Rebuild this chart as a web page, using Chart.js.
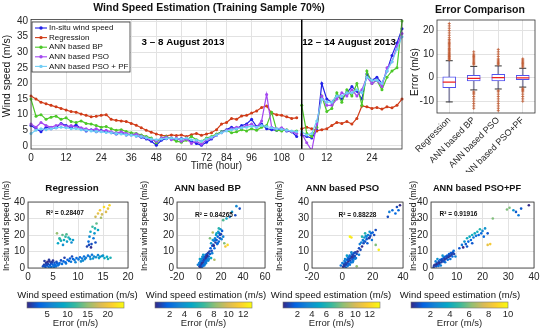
<!DOCTYPE html>
<html><head><meta charset="utf-8">
<script src="https://cdn.jsdelivr.net/npm/chart.js@4.4.1/dist/chart.umd.min.js"></script>
<style>
html,body{margin:0;padding:0;background:#fff;}
body{width:550px;height:332px;position:relative;overflow:hidden;}
canvas{position:absolute;}
</style></head><body>
<canvas id="cMain" width="420" height="172" style="left:0px;top:0px"></canvas>
<canvas id="cBox" width="145" height="172" style="left:405px;top:0px"></canvas>
<canvas id="cS1" width="140" height="121" style="left:0px;top:180px"></canvas>
<canvas id="cS2" width="140" height="121" style="left:138px;top:180px"></canvas>
<canvas id="cS3" width="145" height="121" style="left:268px;top:180px"></canvas>
<canvas id="cS4" width="152" height="121" style="left:398px;top:180px"></canvas>
<canvas id="cB1" width="121" height="34" style="left:15px;top:298px"></canvas>
<canvas id="cB2" width="121" height="34" style="left:143px;top:298px"></canvas>
<canvas id="cB3" width="121" height="34" style="left:271px;top:298px"></canvas>
<canvas id="cB4" width="121" height="34" style="left:399px;top:298px"></canvas>
<script>
// ---------------- DATA ----------------
// time axis (hours) : 3-8 August 2013, then 12-14 August 2013
const hours = [0,2,3,5,7,9,10, 12,14,15,17,19,21,22, 24,26,28,30,32,34, 36,38,41,43,46, 48,50,53,55,58,
  60,62,65,67,70, 72,75,78,81, 84,86,89,91,94, 96,98,100,102,104,106, 108,110,113,115,
  0,2,5,7,10, 12,13,15,16,18,19,20,21,23, 24,26,28,29,31,33,34];
const segStart = 54; // first sample of 12-14 August
const insitu = [6.5,5.5,4.5,6,5.5,5.8,7.2,6.5,5.8,6.8, 5.5,4.8,5.2,4.5,5,4.5,4.2,3.8,4.2,3.5,
  3.8,3.2,2.8,2.2,1.5,0.2,1.8,2.3,2.5,2, 2.4,2.2,1.5,0.8,0.2,1.2,2.2,3.5,4.5,5.2,
  6,5.5,6.5,7,8.5,6.2,7,5.5,5.2,5, 5.5,4.8,4.5,3,
  3.5,3,2.5,5,20,15,14,16,15,17, 19,17.5,15,23,21,22,20,24,29,33, 37.5];
const regression = [16,15,14,13.5,13,12.5,12,11.5,11,10.8, 10.2,9.8,9.3,9.5,9.8,10,8.5,8.2,8,7.8,
  7.2,6.6,5.8,5,4.4,3.8,3.4,3.2,3.5,3.3, 3.5,3,3.6,4,3.4,3.8,4.2,5.2,7,7.5,
  8.8,8.5,9.6,9.8,10.5,11.2,12.3,12.8,10.5,10, 9.8,9.3,8.8,9,
  5.5,6,5.5,4.8,5.2,5.5,6.5,7.5,7.2,7.8, 7,8.8,12.8,12.5,12,12.3,11.8,12.5,12.2,13, 15];
const annBP = [15,9.5,10,8.5,9.2,9.5,8.5,9,7.8,7.5, 8,7.2,7,6.5,6,6.2,5.5,5,5.2,4.6,
  4.2,4,3.5,3,2.5,1,2.5,3,2.2,1.5, 1.2,1.8,3,2,1.5,2.5,3,3.8,4.5,5,
  4.2,4.5,5.2,4.8,5.5,5,6,6.5,10.8,5, 4.8,5.2,4.5,4.8,
  13,4,3,6,16,11,12,17,14,18, 16,20,13,24,20,21,18,22,24,25, 40];
const annPSO = [7,6,7.5,6.5,6,6.5,7,6.2,6.5,6, 5.8,5.5,5,5.5,4.8,5,4.5,4.2,4.5,4,
  3.5,3.8,3.2,2.5,2,1.5,2.5,2.8,2,2.5, 1.5,2.2,0.8,1.5,0.5,2,2.5,3.5,4.2,5,
  5.5,6,5.8,6.5,7,6,8,16.5,6,5.5, 5.8,5,4.5,4,
  4,1,-1.5,7,16,13,13,15,17,16, 18,16,18,22,20,21,19,25,27,32, 36];
const annPF = [4,5,5.5,5.2,5.5,5.8,6,5.8,5.5,5.6, 5.2,5,4.8,4.6,4.5,4.3,4.2,4,3.8,3.6,
  3.4,3.2,3,2.6,2.2,2,2.2,2.4,2.5,2.3, 2.2,2.5,2,1.8,1.5,2.2,2.8,3.5,4.2,4.8,
  5.2,5.5,5.8,6,6.3,6,6.5,6.2,5.8,5.5, 5.3,5,4.8,4.5,
  4.5,3.5,4,8,15,14,14,16,16,17, 17,18,17,22,21,21,20,24,27,31, 35];

// error box plot
const boxCats = ['Regression','ANN based BP','ANN based PSO','ANN based PSO+PF'];
const boxQ1 = [-4.2,-1.4,-1.4,-0.8];
const boxQ3 = [0.4,1.0,1.4,1.0];
const boxMed = [-1.9,-0.3,0.0,-0.1];
const whiskLo = [-10.3,-5.2,-4.8,-4.0];
const whiskHi = [7.2,4.8,5.0,4.0];
const outReg = [7.6,8,8.3,8.7,9,9.4,9.8,10.2,10.6,11,11.5,12,12.4,13,13.5,14,14.5,15,15.6,16.2,17,18,19,20,21,22,23];
const outBP = [5.5,6,6.5,7,7.5,8,8.5,9,9.5,10,11,-6,-6.5,-7,-8,-9,-10,-11,-12,-13];
const outPSO = [5.5,6,6.5,7,7.5,8,9,10,11,12,-5.5,-6,-7,-8,-9,-10,-11,-12,-13,-14];
const outPF = [4.5,5,5.5,6,6.5,7,7.5,8,-4.5,-5,-5.5,-6,-7,-8,-9,-10];

// scatter: [estimation, in-situ]
const regPts = [[3,1],[3.2,2],[3.5,0.5],[3.6,3],[3.8,1.5],[4,2.5],[4.1,0.8],[4.3,4],[4.4,1.8],[4.6,3],[4.7,0.6],[4.9,2.2],[5,4.5],[5.1,1.2],[5.3,3.2],[5.4,2],[5.6,0.9],[5.8,2.8],[6,1.6],[3.3,4.2],[4.2,5],[3.9,3.8],
  [3.4,1.2],[3.7,2.3],[4.5,0.4],[4.8,3.6],[5.2,0.6],[5.5,1.5],[5.7,3.8],[6.2,2.2],[6.6,4.6],[7.6,2.8],[8.4,5.8],[10.6,4],[11.4,5.4],[13,5.8],[14.2,6],[15,7.5],[16,5.5],
  [6.3,3],[6.8,2.5],[7.1,4],[7.5,3.5],[7.9,5],[8.2,4.2],[8.6,3.8],[9,5.5],[9.3,4.8],[9.7,6],[10.1,5.2],[10.4,6.5],[10.8,5.8],[11.2,7],[11.6,6.2],[12,7.5],[12.4,6.8],[12.8,8],[13.2,7],[13.6,6.5],[14,7.8],[14.4,6.8],[14.8,7.2],[15.3,6],[15.8,6.8],[16.5,6.2],[9.5,3.5],[11,4.5],[12.5,5.5],[7.3,6.2],[8.8,7],
  [6,15],[6.3,18],[6.6,16.5],[6.9,20],[7.2,17],[7.5,19],[7.8,16],[8.1,18.5],[8.4,17.5],[8.7,15.5],[9,17],[5.8,21],[7,14],[6.4,17.5],[7.7,20.5],
  [11.8,13],[12.1,16],[12.3,19],[12.5,22],[12.7,14.5],[12.9,25],[13.1,18],[13.3,21],[13.5,15.5],[13.7,27],[12.6,12.5],[14,23],[12.2,14],[13.4,24],
  [13.5,31],[14,33],[14.4,35],[14.8,32.5],[15.2,37],[15.6,34],[16,36],[16.3,38],[14.6,30.5]];
const bpPts = [[0.5,1],[1,2.5],[1.5,0.5],[2,3.5],[2.5,1.8],[3,4.5],[3.2,2.5],[3.5,6],[4,3.5],[4.3,5],[4.6,7],[5,4.2],[5.3,5.8],[5.7,6.5],[6,8],[6.3,4.8],[6.7,7.2],[7,5.5],[7.4,8.5],[7.8,6.8],[8.2,9],[1.2,4],[2.2,5.5],[3.8,8],[5.5,2.5],[8.5,4.5],[9,7],[9.5,10],[10,8.5],[2.8,0.8],[4.8,1.5],[6.5,3],[0.8,5.5],[-1,2],[11,6],[12,9],
  [1.8,1.2],[2.6,2.8],[3.4,1.2],[4.2,2],[4.4,6.2],[5.8,3.6],[6.2,6],[6.9,4.2],[7.6,7.5],[8,5.2],[1,0.3],[0.2,3],[3,6.8],[9,5.5],
  [10.5,12],[11,15],[11.5,10.5],[12,13.5],[12.5,17],[13,14],[13.5,16.5],[14,12],[14.5,18],[15,15.5],[15.5,20],[16,17],[16.5,14.5],[17,19],[17.5,22],[18,16],[18.5,21],[19,18],[19.5,23.5],[20,20.5],[20.5,17.5],[21,22.5],[22,19],[16,21],[18,24],[13.5,13.5],[15,17],[17,15],[19,20],
  [12.5,21.5],[24,13],[10,18],[23,15],[26,14],[14,5],
  [22,29],[25,30],[30,34],[34,37.5],[37,36],[28,31],[33,32]];
const psoPts = [[0.5,0.8],[1,2.5],[1.5,1],[2,3.8],[2.5,2],[3,5],[3.3,2.8],[3.6,6.2],[4,4],[4.4,5.5],[4.8,7.5],[5.2,4.5],[5.5,6],[5.9,7],[6.2,8.5],[6.6,5.2],[7,7.8],[7.4,6],[7.8,9],[8.2,7.2],[8.6,9.5],[1.8,5.5],[3,7.5],[5,2],[6.8,3.5],[9,6],[9.5,8.5],[10,10],[2.5,0.3],[0,3],[-1,1.5],[11,8],
  [1.2,1.8],[2.2,3],[3.6,1.4],[4.2,2.6],[4.6,6.8],[5.6,3.4],[6.4,6.6],[7.2,4.4],[7.8,7],[8.4,5.6],[1.4,4.2],[3.8,5],[6,9.5],
  [11,12],[11.5,14.5],[12,11],[12.5,15.5],[13,13],[13.5,17],[14,15],[14.5,18.5],[15,16],[15.5,19.5],[16,17.5],[16.5,15],[17,20],[17.5,18],[18,22],[18.5,19.5],[19,21],[19.5,17],[20,21.5],[21,20],[15,21],[13,19],[22,23],[14,16.5],[16,19],[18,18.5],
  [5,19],[6,18.5],[24,11],[22,14],[9.5,1],
  [30,31],[33,35],[35,33],[36,37],[38,38],[37,35],[31,34]];
const pfPts = [[1,0.5],[1.5,2],[2,1],[2.3,3],[2.7,1.8],[3,4],[3.3,2.5],[3.6,5],[4,3.5],[4.3,5.5],[4.6,4.2],[5,6.5],[5.3,5],[5.6,7],[6,5.8],[6.3,7.5],[6.7,6.5],[7,8.5],[7.3,7.2],[7.7,9],[8,8],[8.5,9.5],[9,8.5],[1.8,4],[3.8,1.5],[5.5,3.5],[7.5,5.5],[9.5,7],[2.5,5.5],[4.5,7.5],[8.8,10.5],
  [1.2,1.5],[2.1,2.2],[3.1,3.2],[4.1,4.6],[5.2,5.6],[6.1,6.8],[7.1,7.8],[8.2,8.8],[2.9,1.2],[4.9,4],[6.5,5],[8.3,7],
  [11,12],[12,14],[12.5,12.5],[13,16],[13.5,14.5],[14,18],[14.5,16],[15,19],[15.5,17],[16,20],[16.5,18.5],[17,21],[17.5,19.5],[18,22],[18.5,20],[19,23.5],[19.5,21],[20,22.5],[20.5,19],[21,24],[16,15],[14,13],[22,21],
  [22,14],[23,14.5],[29.5,35.5],[30.5,36.5],[24,30],
  [33,34],[34,32],[35,36],[38,38],[32,35]];
const r2Values = ['0.28407','0.84265','0.88228','0.91916'];
const errMax = [24,13.2,13.4,10];

// ---------------- STYLE / HELPERS ----------------
const FF = '"Liberation Sans", Arial, Helvetica, sans-serif';
Chart.defaults.font.family = FF;
Chart.defaults.color = '#262626';
Chart.defaults.animation = false;
Chart.defaults.responsive = false;
Chart.defaults.events = [];
Chart.defaults.plugins.legend.display = false;
Chart.defaults.plugins.tooltip.enabled = false;
const gridCol = '#e2e2e2';
const parula = ['#352a87','#0363e1','#1485d4','#06a7c6','#38b99e','#92bf73','#d9ba56','#fcce2e','#f9fb0e'];
function hexRgb(h){return [parseInt(h.slice(1,3),16),parseInt(h.slice(3,5),16),parseInt(h.slice(5,7),16)];}
function parulaColor(t){
  t = Math.max(0, Math.min(1, t));
  const n = parula.length - 1, k = Math.min(Math.floor(t*n), n-1), f = t*n - k;
  const a = hexRgb(parula[k]), b = hexRgb(parula[k+1]);
  return 'rgb(' + a.map((v,i)=>Math.round(v + (b[i]-v)*f)).join(',') + ')';
}
const framePlugin = { id:'frame', afterDraw(chart, args, o){
  const a = chart.chartArea, ctx = chart.ctx; ctx.save();
  ctx.strokeStyle = o.color || '#333'; ctx.lineWidth = o.width || 0.8;
  ctx.strokeRect(a.left, a.top, a.right - a.left, a.bottom - a.top); ctx.restore(); } };
const textPlugin = { id:'texts', afterDraw(chart, args, o){
  const ctx = chart.ctx;
  (o.items || []).forEach(t => { ctx.save(); ctx.font = t.f; ctx.fillStyle = t.c || '#111';
    ctx.textAlign = t.a || 'center'; ctx.textBaseline = 'middle'; ctx.translate(t.x, t.y);
    if (t.r) ctx.rotate(t.r); ctx.fillText(t.t, 0, 0); ctx.restore(); }); } };
const sepPlugin = { id:'sep', afterDatasetsDraw(chart, args, o){
  const x = chart.scales.x.getPixelForValue(o.index), a = chart.chartArea, ctx = chart.ctx;
  ctx.save(); ctx.strokeStyle = '#000'; ctx.lineWidth = 1.5; ctx.beginPath();
  ctx.moveTo(x, a.top); ctx.lineTo(x, a.bottom); ctx.stroke(); ctx.restore(); } };
const legendPlugin = { id:'legendBox', afterDraw(chart, args, o){
  const ctx = chart.ctx; ctx.save();
  ctx.fillStyle = '#fff'; ctx.fillRect(o.x, o.y, o.w, o.h);
  ctx.strokeStyle = '#333'; ctx.lineWidth = 0.8; ctx.strokeRect(o.x, o.y, o.w, o.h);
  chart.data.datasets.forEach((d, k) => {
    const yy = o.y + o.pad + k*o.step;
    ctx.strokeStyle = d.borderColor; ctx.lineWidth = 1.1; ctx.beginPath();
    ctx.moveTo(o.x + 3, yy); ctx.lineTo(o.x + 15, yy); ctx.stroke();
    ctx.fillStyle = d.borderColor; ctx.beginPath(); ctx.arc(o.x + 9, yy, 1.7, 0, Math.PI*2); ctx.fill();
    ctx.fillStyle = '#111'; ctx.font = '8px ' + FF; ctx.textAlign = 'left'; ctx.textBaseline = 'middle';
    ctx.fillText(d.label, o.x + 17, yy);
  }); ctx.restore(); } };
const B = s => 'bold ' + s + 'px ' + FF, N = s => s + 'px ' + FF;
const ROT = -Math.PI/2;

// ---------------- MAIN TIME SERIES ----------------
function ds(label, data, color, order){
  return { label, data, borderColor: color, backgroundColor: color, pointRadius: 1.5, pointBorderWidth: 0,
    borderWidth: 1.2, order, tension: 0,
    segment: { borderColor: c => c.p0DataIndex === segStart - 1 ? 'rgba(0,0,0,0)' : undefined } };
}
new Chart(document.getElementById('cMain'), {
  type: 'line',
  data: { labels: hours.map(String), datasets: [
    ds('In-situ wind speed', insitu, '#2020e8', 4),
    ds('Regression', regression, '#d03c18', 3),
    ds('ANN based BP', annBP, '#4cc828', 2),
    ds('ANN based PSO', annPSO, '#a448f0', 1),
    ds('ANN based PSO + PF', annPF, '#70cdf5', 0)
  ]},
  options: {
    layout: { padding: { top: 19.5, right: 18, bottom: 0, left: 0 } },
    scales: {
      x: { type: 'category', offset: false,
        grid: { color: c => hours[c.index] % 12 === 0 ? gridCol : 'rgba(0,0,0,0)', drawTicks: false },
        border: { display: false },
        ticks: { autoSkip: false, maxRotation: 0, minRotation: 0, padding: 3, font: { size: 10 },
          callback: (v, i) => hours[i] % 12 === 0 ? String(hours[i]) : '' },
        title: { display: true, text: 'Time (hour)', font: { size: 10 }, padding: { top: 0, bottom: 0 } },
        afterFit: s => { s.height = 23; } },
      y: { min: -1, max: 40.5, ticks: { stepSize: 5, includeBounds: false, padding: 3, font: { size: 10 } },
        grid: { color: gridCol, drawTicks: false }, border: { display: false },
        afterFit: s => { s.width = 31; } }
    },
    plugins: {
      sep: { index: segStart },
      frame: { color: '#333' },
      legendBox: { x: 32, y: 22, w: 98, h: 50, pad: 6, step: 9.6 },
      texts: { items: [
        { t: 'Wind Speed Estimation (Training Sample 70%)', x: 209, y: 8.5, f: B(10.5) },
        { t: '3 \u2013 8 August 2013', x: 183, y: 42, f: B(9.8), c: '#000' },
        { t: '12 \u2013 14 August 2013', x: 349, y: 42, f: B(9.8), c: '#000' },
        { t: 'Wind speed (m/s)', x: 7, y: 76, f: N(10.5), r: ROT }
      ] }
    }
  },
  plugins: [framePlugin, sepPlugin, legendPlugin, textPlugin]
});

// ---------------- BOX PLOT ----------------
const outPts = [];
[outReg, outBP, outPSO, outPF].forEach((arr, i) => arr.forEach(y => outPts.push({ x: boxCats[i], y })));
new Chart(document.getElementById('cBox'), {
  type: 'bar',
  data: { labels: boxCats, datasets: [
    { type: 'bar', data: boxCats.map((c, i) => [whiskLo[i], whiskHi[i]]), backgroundColor: '#8a8aa8', barThickness: 1, grouped: false, order: 5 },
    { type: 'bar', data: boxCats.map((c, i) => [boxQ1[i], boxQ3[i]]), backgroundColor: '#ffffff', borderColor: '#5252ee', borderWidth: 1, borderSkipped: false, barThickness: 13, grouped: false, order: 4 },
    { type: 'line', showLine: false, data: boxCats.flatMap((c, i) => [{ x: c, y: whiskLo[i] }, { x: c, y: whiskHi[i] }]), pointStyle: 'line', pointRadius: 3.5, pointBorderColor: '#333', pointBorderWidth: 1, order: 3 },
    { type: 'line', showLine: false, data: boxCats.map((c, i) => ({ x: c, y: boxMed[i] })), pointStyle: 'line', pointRadius: 6.5, pointBorderColor: '#ee2020', pointBorderWidth: 1.2, order: 2 },
    { type: 'line', showLine: false, data: outPts, pointStyle: 'cross', pointRadius: 1.5, pointBorderColor: '#c05a32', pointBorderWidth: 0.8, order: 1 }
  ]},
  options: {
    layout: { padding: { top: 20, right: 15, bottom: 0, left: 0 } },
    scales: {
      x: { type: 'category', grid: { color: gridCol, drawTicks: false, offset: false }, border: { display: false },
        ticks: { autoSkip: false, minRotation: 45, maxRotation: 45, padding: 2, font: { size: 9 } },
        afterFit: s => { s.height = 59; } },
      y: { min: -15, max: 24.5, ticks: { stepSize: 10, includeBounds: false, padding: 3, font: { size: 10 } },
        grid: { color: gridCol, drawTicks: false }, border: { display: false }, afterFit: s => { s.width = 32; } }
    },
    plugins: {
      frame: { color: '#333' },
      texts: { items: [
        { t: 'Error Comparison', x: 75, y: 10, f: B(10.5) },
        { t: 'Error (m/s)', x: 10, y: 72, f: N(10), r: ROT }
      ] }
    }
  },
  plugins: [framePlugin, textPlugin]
});

// ---------------- SCATTER PANELS ----------------
function scatterChart(id, pts, eMax, xr, yW, padR, texts){
  return new Chart(document.getElementById(id), {
    type: 'scatter',
    data: { datasets: [{ data: pts.map(p => ({ x: p[0], y: p[1] })), pointRadius: 1.3, pointBorderWidth: 0,
      pointBackgroundColor: pts.map(p => parulaColor(Math.abs(p[0] - p[1]) / eMax)) }] },
    options: {
      layout: { padding: { top: 22, right: padR, bottom: 0, left: 0 } },
      scales: {
        x: { type: 'linear', min: xr[0], max: xr[1], ticks: { stepSize: xr[2], padding: 3, font: { size: 10 }, autoSkip: false },
          grid: { color: gridCol, drawTicks: false }, border: { display: false }, afterFit: s => { s.height = 33; } },
        y: { min: 0, max: 40, ticks: { stepSize: 10, padding: 3, font: { size: 10 } },
          grid: { color: gridCol, drawTicks: false }, border: { display: false }, afterFit: s => { s.width = yW; } }
      },
      plugins: { frame: { color: '#333' }, texts: { items: texts } }
    },
    plugins: [framePlugin, textPlugin]
  });
}
const yT = 'In-situ wind speed (m/s)', xT = 'Wind speed estimation (m/s)';
scatterChart('cS1', regPts, errMax[0], [0, 20, 5], 28, 12, [
  { t: 'Regression', x: 72, y: 8, f: B(9.8) }, { t: yT, x: 7, y: 46, f: N(8.5), r: ROT },
  { t: xT, x: 77.5, y: 115, f: N(9.5) }, { t: 'R\u00b2 = ' + r2Values[0], x: 65, y: 33, f: B(6.5) } ]);
scatterChart('cS2', bpPts, errMax[1], [-20, 60, 20], 39, 13, [
  { t: 'ANN based BP', x: 69.5, y: 8, f: B(9.5) }, { t: yT, x: 7, y: 46, f: N(8.5), r: ROT },
  { t: xT, x: 68, y: 115, f: N(9.5) }, { t: 'R\u00b2 = ' + r2Values[1], x: 76, y: 35, f: B(6.5) } ]);
scatterChart('cS3', psoPts, errMax[2], [-20, 40, 20], 44, 10, [
  { t: 'ANN based PSO', x: 74.5, y: 8, f: B(9.5) }, { t: yT, x: 12, y: 46, f: N(8.5), r: ROT },
  { t: xT, x: 63, y: 115, f: N(9.5) }, { t: 'R\u00b2 = ' + r2Values[2], x: 89.5, y: 35, f: B(6.5) } ]);
scatterChart('cS4', pfPts, errMax[3], [0, 40, 10], 33, 16, [
  { t: 'ANN based PSO+PF', x: 79, y: 8, f: B(9.2) }, { t: yT, x: 16, y: 46, f: N(8.5), r: ROT },
  { t: xT, x: 62, y: 115, f: N(9.5) }, { t: 'R\u00b2 = ' + r2Values[3], x: 60.5, y: 34, f: B(6.5) } ]);

// ---------------- COLORBARS ----------------
function colorbar(id, max, step){
  return new Chart(document.getElementById(id), {
    type: 'bar',
    data: { labels: [''], datasets: [{ data: [[0, max]], barPercentage: 1, categoryPercentage: 1, borderWidth: 0,
      backgroundColor: c => { const a = c.chart.chartArea; if (!a) return parula[0];
        const g = c.chart.ctx.createLinearGradient(a.left, 0, a.right, 0);
        parula.forEach((col, k) => g.addColorStop(k / (parula.length - 1), col)); return g; } }] },
    options: {
      indexAxis: 'y',
      layout: { padding: { top: 4, left: 12, right: 12, bottom: 0 } },
      scales: {
        x: { type: 'linear', min: 0, max,
          ticks: { stepSize: step, padding: 1, font: { size: 9.5 }, autoSkip: false, includeBounds: false, maxRotation: 0,
            callback: v => v === 0 ? '' : v },
          grid: { display: false, drawTicks: false }, border: { display: false },
          title: { display: true, text: 'Error (m/s)', font: { size: 9.5 }, padding: { top: 0, bottom: 3 } },
          afterFit: s => { s.height = 24; } },
        y: { display: false }
      },
      plugins: { frame: { color: '#777', width: 0.6 } }
    },
    plugins: [framePlugin]
  });
}
colorbar('cB1', errMax[0], 5);
colorbar('cB2', errMax[1], 2);
colorbar('cB3', errMax[2], 2);
colorbar('cB4', errMax[3], 2);
</script>
</body></html>
